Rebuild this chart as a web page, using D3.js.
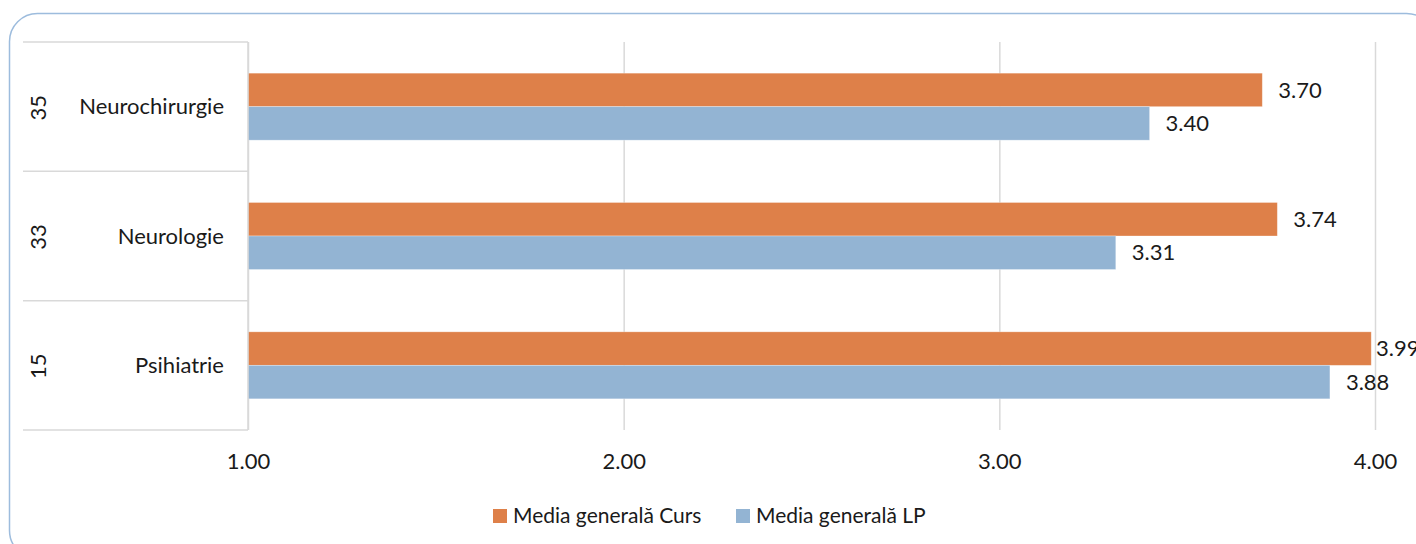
<!DOCTYPE html>
<html>
<head>
<meta charset="utf-8">
<script src="https://cdn.jsdelivr.net/npm/d3@7"></script>
<style>
  body { margin: 0; background: #fff; }
  text { font-family: Lato, "Open Sans", sans-serif; fill: #1a1a1a; }
</style>
</head>
<body>
<div id="chart"></div>
<script>
const WIDTH = 1416, HEIGHT = 544;
const PLOT_LEFT = 248, PLOT_RIGHT = 1375, PLOT_TOP = 42, PLOT_BOTTOM = 430;
const FONT = 22, LEGEND_FONT = 21;

// data
const categories = ["Neurochirurgie", "Neurologie", "Psihiatrie"];
const counts = ["35", "33", "15"];
const seriesNames = ["Media generală Curs", "Media generală LP"];
const cursValues = [3.70, 3.74, 3.99];
const lpValues = [3.40, 3.31, 3.88];
const xTicks = [1, 2, 3, 4];
const colors = ["#de8049", "#93b4d3"];

const rows = categories.map((c, i) => ({ cat: c, n: counts[i], vals: [cursValues[i], lpValues[i]] }));

const svg = d3.select("#chart").append("svg")
    .attr("width", WIDTH)
    .attr("height", HEIGHT);

// frame
svg.append("rect")
    .attr("x", 9.5).attr("y", 13.5)
    .attr("width", 1425).attr("height", 545)
    .attr("rx", 28).attr("ry", 28)
    .attr("fill", "none")
    .attr("stroke", "#9dbcdd")
    .attr("stroke-width", 1.5);

const x = d3.scaleLinear().domain([1, 4]).range([PLOT_LEFT, PLOT_RIGHT]);
const y0 = d3.scaleBand().domain(categories).range([PLOT_TOP, PLOT_BOTTOM]).padding(0);
const y1 = d3.scaleBand().domain(seriesNames).range([0, y0.bandwidth()]).paddingInner(0).paddingOuter(0.93);

// grid + ticks
const xAxis = svg.append("g")
    .attr("transform", `translate(0,${PLOT_BOTTOM})`)
    .call(d3.axisBottom(x)
        .tickValues(xTicks)
        .tickFormat(d3.format(".2f"))
        .tickSize(-(PLOT_BOTTOM - PLOT_TOP))
        .tickPadding(23));
xAxis.select(".domain").remove();
xAxis.selectAll(".tick line").attr("stroke", "#d9d9d9").attr("stroke-width", 1.5);
xAxis.selectAll(".tick text").attr("font-size", FONT).attr("font-family", "Lato, sans-serif").attr("fill", "#1a1a1a");

// category table lines
const bounds = categories.map(c => y0(c)).concat([PLOT_BOTTOM]);
svg.append("g").selectAll("line")
    .data(bounds)
    .join("line")
    .attr("x1", 23).attr("x2", PLOT_LEFT)
    .attr("y1", d => d).attr("y2", d => d)
    .attr("stroke", "#d9d9d9").attr("stroke-width", 1.5);

// bars
const groups = svg.append("g").selectAll("g")
    .data(rows)
    .join("g")
    .attr("transform", d => `translate(0,${y0(d.cat)})`);

groups.selectAll("rect")
    .data(d => d.vals.map((v, i) => ({ v, s: seriesNames[i], i })))
    .join("rect")
    .attr("x", x(1))
    .attr("y", d => y1(d.s))
    .attr("width", d => x(d.v) - x(1))
    .attr("height", y1.bandwidth())
    .attr("fill", d => colors[d.i])
    .attr("stroke", "#fff")
    .attr("stroke-opacity", 0.4)
    .attr("stroke-width", 0.75);

groups.selectAll("text.val")
    .data(d => d.vals.map((v, i) => ({ v, s: seriesNames[i], i })))
    .join("text")
    .attr("class", "val")
    .attr("x", d => Math.min(x(d.v) + 16, x(4) + 1))
    .attr("y", d => y1(d.s) + y1.bandwidth() / 2)
    .attr("dy", "0.35em")
    .attr("font-size", FONT)
    .text(d => d.v.toFixed(2));

// vertical axis line (left of bars)
svg.append("line")
    .attr("x1", PLOT_LEFT).attr("x2", PLOT_LEFT)
    .attr("y1", PLOT_TOP).attr("y2", PLOT_BOTTOM)
    .attr("stroke", "#d9d9d9").attr("stroke-width", 1.5);

// category labels
svg.append("g").selectAll("text")
    .data(rows)
    .join("text")
    .attr("x", 224)
    .attr("y", d => y0(d.cat) + y0.bandwidth() / 2)
    .attr("dy", "0.35em")
    .attr("text-anchor", "end")
    .attr("font-size", FONT)
    .text(d => d.cat);

svg.append("g").selectAll("text")
    .data(rows)
    .join("text")
    .attr("transform", d => `translate(38,${y0(d.cat) + y0.bandwidth() / 2 + 1}) rotate(-90)`)
    .attr("dy", "0.35em")
    .attr("text-anchor", "middle")
    .attr("font-size", FONT)
    .text(d => d.n);

// legend
const legendX = [493, 736];
const legend = svg.append("g").selectAll("g")
    .data(seriesNames)
    .join("g")
    .attr("transform", (d, i) => `translate(${legendX[i]},516)`);
legend.append("rect")
    .attr("x", 0).attr("y", -7)
    .attr("width", 14).attr("height", 14)
    .attr("fill", (d, i) => colors[i]);
legend.append("text")
    .attr("x", 20)
    .attr("dy", "0.35em")
    .attr("font-size", LEGEND_FONT)
    .text(d => d);
</script>
</body>
</html>
